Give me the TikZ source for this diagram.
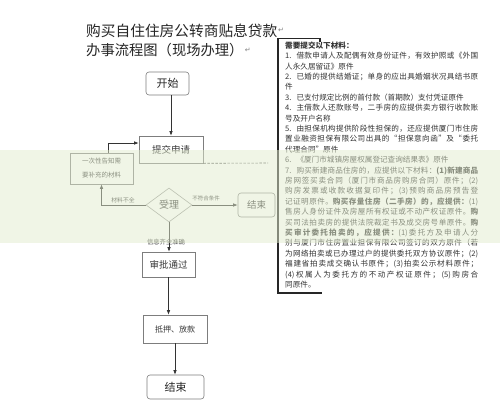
\documentclass[tikz,border=0pt]{standalone}
\usepackage{fontspec}
\setmainfont{Noto Sans CJK SC}
\newfontfamily\cjk{Noto Sans CJK SC}
\newfontfamily\cjksp{Noto Sans CJK SC}[LetterSpace=12]
\newfontfamily\symfont{DejaVu Sans}
\usetikzlibrary{shapes.geometric,arrows.meta}
\makeatletter
\newXeTeXintercharclass\cjkcls
\count@="3000
\loop \XeTeXcharclass\count@=\cjkcls \advance\count@ by 1 \ifnum\count@<"3040 \repeat
\count@="4E00
\loop \XeTeXcharclass\count@=\cjkcls \advance\count@ by 1 \ifnum\count@<"A000 \repeat
\count@="FF00
\loop \XeTeXcharclass\count@=\cjkcls \advance\count@ by 1 \ifnum\count@<"FFF0 \repeat
\XeTeXcharclass"201C=\cjkcls
\XeTeXcharclass"201D=\cjkcls
\makeatother
\XeTeXinterchartoks\cjkcls\cjkcls={\hskip0pt plus 1pt\relax}
\XeTeXinterchartoks\cjkcls 0={\hskip0pt plus 1pt\relax}
\XeTeXinterchartoks 0\cjkcls={\hskip0pt plus 1pt\relax}
\XeTeXinterchartokenstate=1
\definecolor{boxgray}{RGB}{125,125,125}
\definecolor{txt}{RGB}{55,55,55}
\definecolor{bandc}{RGB}{226,236,206}
\newcommand\fl[1]{\makebox[193pt][s]{#1}}
\newcommand\nsp{\hspace{5pt}}
\begin{document}
\begin{tikzpicture}[x=1pt,y=-1pt,
  box/.style={draw=boxgray, line width=0.6pt, inner sep=0pt, text=txt},
  rbox/.style={box, rounded corners=3pt},
  arr/.style={draw=black!80, line width=0.6pt, -{Latex[length=4.5pt,width=3.5pt]}},
  lbl/.style={inner sep=0.5pt, text=txt},
]
\useasboundingbox (0,0) rectangle (500,405);
\fill[white] (0,0) rectangle (500,405);

% title
\node[anchor=west, inner sep=0, text=black!85, font=\cjk\fontsize{14.7}{16}\selectfont] (title1) at (86,31) {购买自住住房公转商贴息贷款};
\node[anchor=west, inner sep=0.5pt, text=gray, font=\symfont\fontsize{7}{8}\selectfont] (ret1) at ([yshift=1pt]title1.east) {↵};
\node[anchor=west, inner sep=0, text=black!85, font=\cjk\fontsize{14.3}{16}\selectfont] (title2) at (86,50) {办事流程图（现场办理）};
\node[anchor=west, inner sep=1pt, text=gray, font=\symfont\fontsize{7}{8}\selectfont] (ret2) at (title2.east) {↵};

% flowchart
\node[rbox, minimum width=43pt, minimum height=23pt, text=black!85, font=\cjk\fontsize{11}{12}\selectfont] (start) at (167.5,83.5) {开始};
\node[box, minimum width=64pt, minimum height=27pt, font=\cjksp\fontsize{9.5}{11}\selectfont] (submit) at (171,149.5) {提交申请};
\node[box, minimum width=63pt, minimum height=31pt, align=center, font=\cjksp\fontsize{6.5}{14}\selectfont] (notice) at (101.5,168.5) {一次性告知需\\要补充的材料};
\node[diamond, draw=boxgray!80, line width=0.6pt, minimum width=46pt, minimum height=34pt, inner sep=0pt, text=black!80, font=\cjk\fontsize{10}{11}\selectfont] (accept) at (169,205) {受理};
\node[rbox, minimum width=37pt, minimum height=24pt, font=\cjksp\fontsize{9.5}{11}\selectfont] (end1) at (256.5,205) {结束};
\node[box, minimum width=53pt, minimum height=25pt, font=\cjksp\fontsize{9.5}{11}\selectfont] (approve) at (168.5,264.5) {审批通过};
\node[box, minimum width=64pt, minimum height=28pt, font=\cjksp\fontsize{8}{10}\selectfont] (loan) at (175,329) {抵押、放款};
\node[rbox, minimum width=57pt, minimum height=24pt, text=black!85, font=\cjk\fontsize{11}{12}\selectfont] (end2) at (175.5,387) {结束};

\draw[arr] (submit.north |- start.south) -- (submit.north);
\draw[arr] (accept.west) -| (notice.south);
\draw[arr] ([xshift=6.5pt]notice.north) |- ([yshift=6.5pt]submit.west);
\draw[arr] (accept.east) -- (end1.west);
\draw[arr] (accept.south) -- (accept.south |- approve.north);
\draw[arr] (approve.south) -- (approve.south |- loan.north);
\draw[arr] (loan.south) -- (loan.south |- end2.north);

\node[lbl, font=\cjk\fontsize{5.8}{7}\selectfont] (l1) at (123,200) {材料不全};
\node[lbl, font=\cjk\fontsize{5.5}{7}\selectfont] (l2) at (206,198.5) {不符合条件};
\node[lbl, font=\cjksp\fontsize{6.3}{7}\selectfont] (l3) at (166,242) {信息齐全准确};

\coordinate (dashend) at (268,163);
\draw[black!70, line width=0.6pt, dash pattern=on 2.5pt off 1.5pt] (submit.south east) -- (dashend);

% materials
\draw[black!85, line width=1.6pt] (320,42) -- (320,38.5) -- (278,38.5) -- (278,293) -- (322,293);
\node[anchor=north west, inner sep=0, align=left, text=black!80, font=\cjk\fontsize{7.6}{10.4}\selectfont] (materials) at (285,41.5) {%
{\bfseries 需要提交以下材料：}\\
\fl{1.\nsp 借款申请人及配偶有效身份证件，有效护照或《外国}\\
人永久居留证》原件\\
\fl{2.\nsp 已婚的提供结婚证；单身的应出具婚姻状况具结书原}\\
件\\
3.\nsp 已支付规定比例的首付款（首期款）支付凭证原件\\
\fl{4.\nsp 主借款人还款账号，二手房的应提供卖方银行收款账}\\
号及开户名称\\
\fl{5.\nsp 由担保机构提供阶段性担保的，还应提供厦门市住房}\\
\fl{置业融资担保有限公司出具的“担保意向函”及“委托}\\
代理合同”原件\\
6.\nsp 《厦门市城镇房屋权属登记查询结果表》原件\\
\fl{7.\nsp 购买新建商品住房的，应提供以下材料：{\bfseries (1)新建商品}}\\
\fl{房网签买卖合同（厦门市商品房购房合同）原件；(2)}\\
\fl{购房发票或收款收据复印件；(3)预购商品房预告登}\\
\fl{记证明原件。{\bfseries 购买存量住房（二手房）的，应提供：}(1)}\\
\fl{售房人身份证件及房屋所有权证或不动产权证原件。{\bfseries 购}}\\
\fl{买司法拍卖房的提供法院裁定书及成交房号单原件。{\bfseries 购}}\\
\fl{{\bfseries 买审计委托拍卖的，应提供：}(1)委托方及申请人分}\\
\fl{别与厦门市住房置业担保有限公司签订的双方原件（若}\\
\fl{为网络拍卖或已办理过户的提供委托双方协议原件；(2)}\\
\fl{福建省拍卖成交确认书原件；(3)拍卖公示材料原件；}\\
\fl{(4)权属人为委托方的不动产权证原件；(5)购房合}\\
同原件。};

% pale band across the picture
\fill[bandc, opacity=0.5] (0,150) rectangle (500,243);
\end{tikzpicture}
\end{document}
